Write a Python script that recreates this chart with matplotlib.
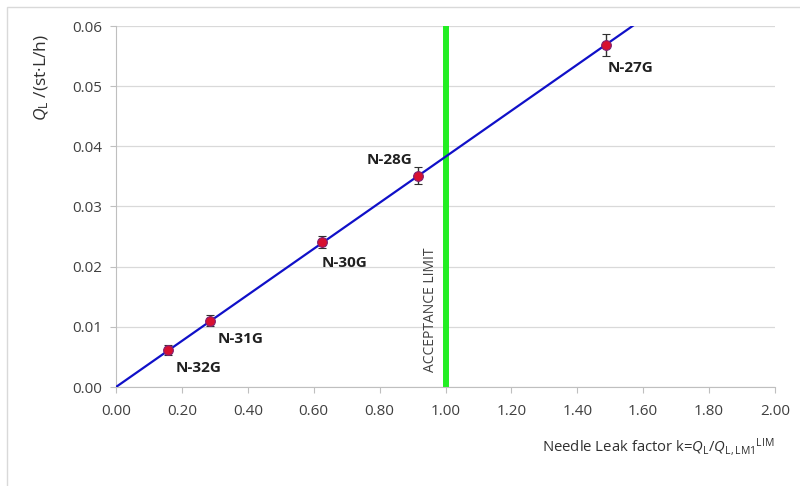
import numpy as np
import matplotlib
matplotlib.use("Agg")
import matplotlib.pyplot as plt
from matplotlib.patches import Rectangle

# Data
needles = ["N-32G", "N-31G", "N-30G", "N-28G", "N-27G"]
k_factor = [0.158, 0.285, 0.625, 0.917, 1.487]
leak_rate = [0.0062, 0.0110, 0.0241, 0.0351, 0.0568]
leak_err = [0.0008, 0.0009, 0.0010, 0.0014, 0.0018]
fit_x_range = [0.0, 1.575]
acceptance_limit = 1.0
x_ticks = [0.0, 0.2, 0.4, 0.6, 0.8, 1.0, 1.2, 1.4, 1.6, 1.8, 2.0]
y_ticks = [0.00, 0.01, 0.02, 0.03, 0.04, 0.05, 0.06]

plt.rcParams['font.family'] = ['Open Sans', 'DejaVu Sans']
plt.rcParams['mathtext.fontset'] = 'custom'
plt.rcParams['mathtext.rm'] = 'Open Sans'
plt.rcParams['mathtext.it'] = 'Open Sans:italic'

fig = plt.figure(figsize=(8, 4.86), dpi=100)
# outer light frame
fig.patches.append(Rectangle((7/800, -0.1), 1.2, 1 - 7/486 + 0.1, transform=fig.transFigure,
                             fill=False, edgecolor='#d9d9d9', lw=1.0))
ax = fig.add_axes([116/800, (486-387)/486, (775-116)/800, (387-26)/486])

# grid
ax.set_axisbelow(True)
ax.yaxis.grid(True, color='#d9d9d9', lw=0.9)

# fit line through origin
kx = np.array(k_factor); qy = np.array(leak_rate)
slope = np.sum(kx*qy) / np.sum(kx*kx)
xf = np.array(fit_x_range)
ax.plot(xf, slope*xf, color='#1010c8', lw=1.6, zorder=3)

# acceptance limit
ax.axvline(acceptance_limit, color='#22ee22', lw=4.3, zorder=2)
ax.text(0.953, 0.0128, "ACCEPTANCE LIMIT", rotation=90, ha='center', va='center',
        fontsize=10, color='#404040')

# points
ax.errorbar(k_factor, leak_rate, yerr=leak_err, fmt='o', ms=7,
            mfc='#d81030', mec='#802070', mew=0.8, ecolor='#303030',
            elinewidth=1.0, capsize=3, capthick=1.0, zorder=4)

offsets = {"N-32G": (8, -18, 'left'), "N-31G": (8, -18, 'left'),
           "N-30G": (0, -21, 'left'), "N-28G": (-6, 16, 'right'),
           "N-27G": (2, -23, 'left')}
for name, x, y in zip(needles, k_factor, leak_rate):
    dx, dy, ha = offsets[name]
    ax.annotate(name, (x, y), xytext=(dx, dy), textcoords='offset pixels',
                ha=ha, va='center', fontsize=11, fontweight='bold', color='#202020')

ax.set_xlim(0, 2.0)
ax.set_ylim(0, 0.06)
ax.set_xticks(x_ticks)
ax.set_yticks(y_ticks)
ax.set_xticklabels([f"{v:.2f}" for v in x_ticks])
ax.set_yticklabels([f"{v:.2f}" for v in y_ticks])
ax.tick_params(axis='both', labelsize=11, labelcolor='#404040', color='#bfbfbf',
               length=4, width=0.8)
ax.tick_params(axis='x', pad=8)
ax.tick_params(axis='y', pad=6)
for s in ['top', 'right']:
    ax.spines[s].set_visible(False)
for s in ['left', 'bottom']:
    ax.spines[s].set_color('#bfbfbf')
    ax.spines[s].set_linewidth(0.8)

fig.text(775/800, 1 - 447/486,
         r"Needle Leak factor k=$Q_\mathrm{L}$/$Q_\mathrm{L,LM1}{}^\mathrm{LIM}$",
         ha='right', va='center', fontsize=10.7, color='#303030')
fig.text(42/800, 1 - 78/486, r"$Q_\mathrm{L}$ /(st·L/h)", rotation=90, ha='center', va='center',
         fontsize=12.5, color='#303030')

fig.savefig("out.png", dpi=100)
